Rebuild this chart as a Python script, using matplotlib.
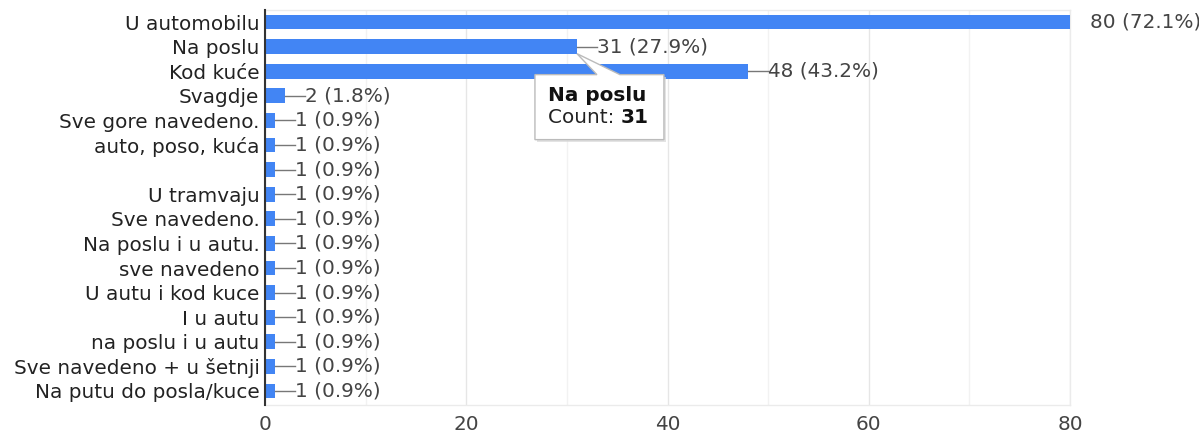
import matplotlib
matplotlib.use("Agg")
import matplotlib.pyplot as plt
from matplotlib.patches import Polygon
import numpy as np

plt.rcParams['font.family'] = ['DejaVu Sans']

categories = ["U automobilu", "Na poslu", "Kod kuće", "Svagdje", "Sve gore navedeno.",
              "auto, poso, kuća", "", "U tramvaju", "Sve navedeno.", "Na poslu i u autu.",
              "sve navedeno", "U autu i kod kuce", "I u autu", "na poslu i u autu",
              "Sve navedeno + u šetnji", "Na putu do posla/kuce"]
counts = [80, 31, 48, 2, 1, 1, 1, 1, 1, 1, 1, 1, 1, 1, 1, 1]
percents = ["72.1%", "27.9%", "43.2%", "1.8%", "0.9%", "0.9%", "0.9%", "0.9%", "0.9%",
            "0.9%", "0.9%", "0.9%", "0.9%", "0.9%", "0.9%", "0.9%"]
x_ticks = [0, 20, 40, 60, 80]
tooltip_index = 1

bar_color = "#4285F4"
FS = 14.4

fig = plt.figure(figsize=(11.99, 4.34), dpi=100)
ax = fig.add_axes([265/1199, 1-405/434, (1070-265)/1199, (405-10)/434])

y = np.arange(len(categories))
ax.barh(y, counts, height=0.6, color=bar_color, zorder=3)

ax.set_xlim(0, 80)
ax.set_ylim(len(categories) - 0.43, -0.49)
ax.set_yticks(y)
ax.set_yticklabels(categories, fontsize=FS, color="#222222")
ax.set_xticks(x_ticks)
ax.set_xticklabels([str(t) for t in x_ticks], fontsize=FS, color="#444444")
ax.set_xticks([10, 30, 50, 70], minor=True)
ax.tick_params(axis='y', length=0, pad=4)
ax.tick_params(axis='x', which='both', length=0, pad=7)
ax.grid(axis='x', which='major', color="#e6e6e6", linewidth=1, zorder=0)
ax.grid(axis='x', which='minor', color="#f2f2f2", linewidth=1, zorder=0)
for s in ['top', 'right', 'bottom']:
    ax.spines[s].set_color("#ebebeb")
    ax.spines[s].set_linewidth(1)
ax.spines['left'].set_color("#333333")
ax.spines['left'].set_linewidth(1.5)
ax.spines['left'].set_zorder(4)

# value labels with leader lines
px = 80 / 805.0  # data units per pixel along x
for i, (c, p) in enumerate(zip(counts, percents)):
    label = f"{c} ({p})"
    if i != 0:
        ax.plot([c, c + 20 * px], [i, i], color="#777777", lw=1, zorder=4, clip_on=False)
    ax.text(c + 20 * px, i, label, va='center', ha='left', fontsize=FS,
            color="#444444", clip_on=False)

# tooltip
tc = counts[tooltip_index]
rowpx = 24.6
def P(dx, dy):
    return (tc + dx * px, tooltip_index + dy / rowpx)

bx0, bx1 = -42, 87
by0, by1 = 28, 93
sh = Polygon([P(bx0 + 2, by0 + 2), P(bx1 + 2, by0 + 2), P(bx1 + 2, by1 + 2), P(bx0 + 2, by1 + 2)],
             closed=True, facecolor="#d8d8d8", edgecolor="none", zorder=8, alpha=0.7)
ax.add_patch(sh)
box = Polygon([P(bx0, by0), P(20, by0), P(0, 7), P(43, by0), P(bx1, by0),
               P(bx1, by1), P(bx0, by1)],
              closed=True, facecolor="white", edgecolor="#bbbbbb", lw=1, zorder=9)
ax.add_patch(box)
ax.text(*P(bx0 + 13, 49), categories[tooltip_index], fontsize=FS, fontweight='bold',
        color="#111111", va='center', ha='left', zorder=10)
t1 = ax.text(*P(bx0 + 13, 71), "Count: ", fontsize=FS, color="#222222",
             va='center', ha='left', zorder=10)
fig.canvas.draw()
bb = t1.get_window_extent()
inv = ax.transData.inverted()
xe = inv.transform((bb.x1, bb.y0))[0]
ax.text(xe, P(0, 71)[1], str(tc), fontsize=FS, fontweight='bold', color="#111111",
        va='center', ha='left', zorder=10)

fig.savefig("out.png", dpi=100, facecolor="white")
